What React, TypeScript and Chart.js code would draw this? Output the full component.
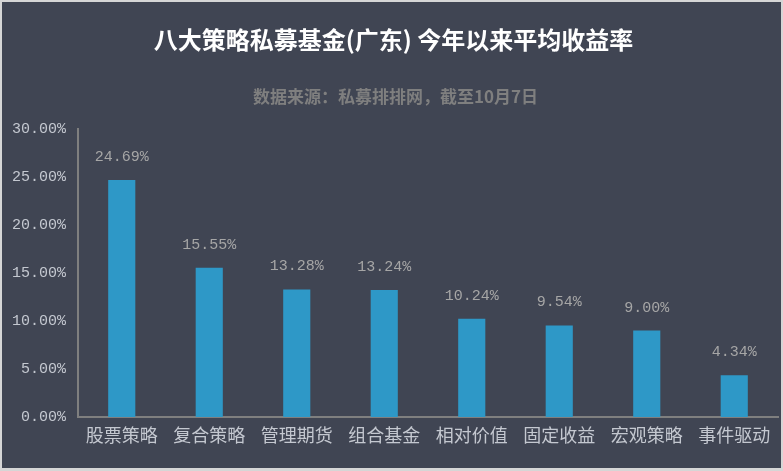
import React, { useEffect, useRef } from "react";
import { Chart, registerables } from "chart.js";

Chart.register(...registerables);

const categories = ["股票策略", "复合策略", "管理期货", "组合基金", "相对价值", "固定收益", "宏观策略", "事件驱动"];
const returns = [24.69, 15.55, 13.28, 13.24, 10.24, 9.54, 9.0, 4.34];
const titleText = "八大策略私募基金(广东) 今年以来平均收益率";
const subtitleText = "数据来源：私募排排网，截至10月7日";

const BG = "#404553";
const BORDER = "#d6d6d6";
const BAR = "#2e98c7";
const MONO = "'Liberation Mono', 'DejaVu Sans Mono', monospace";
const CJK = "'Noto Sans CJK SC', sans-serif";

const bgPlugin = {
  id: "bgPlugin",
  beforeDraw(chart: any) {
    const { ctx, width, height } = chart;
    ctx.save();
    ctx.fillStyle = BORDER;
    ctx.fillRect(0, 0, width, height);
    ctx.fillStyle = BG;
    ctx.fillRect(2, 2, width - 4, height - 5);
    ctx.fillStyle = "#ffffff";
    ctx.font = `bold 24px ${CJK}`;
    ctx.textAlign = "center";
    ctx.textBaseline = "middle";
    ctx.fillText(titleText, width / 2 + 2, 40);
    ctx.fillStyle = "#7f7f7f";
    ctx.font = `bold 17px ${CJK}`;
    ctx.fillText(subtitleText, width / 2 + 4, 97);
    ctx.restore();
  },
  afterDatasetsDraw(chart: any) {
    const { ctx } = chart;
    const meta = chart.getDatasetMeta(0);
    ctx.save();
    ctx.fillStyle = "#a6a6a6";
    ctx.font = `15px ${MONO}`;
    ctx.textAlign = "center";
    ctx.textBaseline = "middle";
    meta.data.forEach((bar: any, i: number) => {
      ctx.fillText(returns[i].toFixed(2) + "%", bar.x, bar.y - 23);
    });
    ctx.restore();
  },
};

export default function App() {
  const ref = useRef<HTMLCanvasElement>(null);
  useEffect(() => {
    document.body.style.margin = "0";
    const chart = new Chart(ref.current!, {
      type: "bar",
      data: {
        labels: categories,
        datasets: [
          {
            data: returns,
            backgroundColor: BAR,
            barPercentage: 0.31,
            categoryPercentage: 1,
          },
        ],
      },
      options: {
        responsive: false,
        animation: false,
        layout: { padding: { top: 129, right: 5, left: 0, bottom: 0 } },
        plugins: {
          legend: { display: false },
          tooltip: { enabled: false },
          title: { display: false },
        },
        scales: {
          x: {
            grid: { display: false, drawTicks: false },
            border: { display: true, color: "#7f7f7f", width: 2 },
            ticks: {
              color: "#c4c8d0",
              font: { family: CJK, size: 18 },
              padding: 7,
              maxRotation: 0,
              autoSkip: false,
            },
            afterFit(axis: any) {
              axis.height = 54;
            },
          },
          y: {
            min: 0,
            max: 30,
            grid: { display: false, drawTicks: false },
            border: { display: true, color: "#7f7f7f", width: 2 },
            ticks: {
              stepSize: 5,
              color: "#c4c8d0",
              font: { family: MONO, size: 15 },
              padding: 12,
              callback: (v: any) => Number(v).toFixed(2) + "%",
            },
            afterFit(axis: any) {
              axis.width = 78;
            },
          },
        },
      },
      plugins: [bgPlugin],
    });
    return () => chart.destroy();
  }, []);
  return (
    <div style={{ width: 783, height: 471 }}>
      <canvas ref={ref} width={783} height={471} style={{ display: "block" }} />
    </div>
  );
}
